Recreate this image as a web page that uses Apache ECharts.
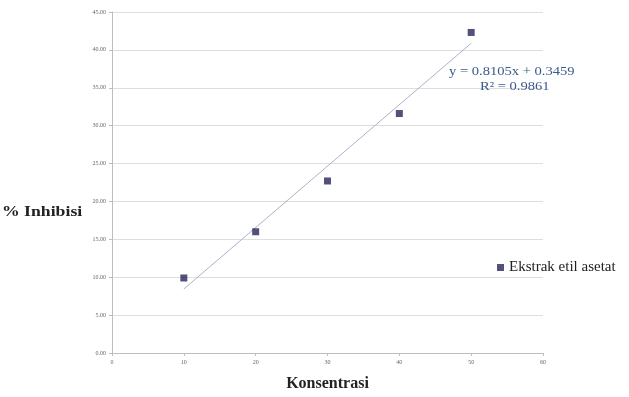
<!DOCTYPE html>
<html>
<head>
<meta charset="utf-8">
<script src="https://cdn.jsdelivr.net/npm/echarts@6/dist/echarts.min.js"></script>
<style>html,body{margin:0;padding:0;background:#fff}#c{width:629px;height:397px}</style>
</head>
<body>
<div id="c"></div>
<script>
const concentrations = [10, 20, 30, 40, 50];
const inhibition = [9.9, 16.0, 22.7, 31.6, 42.3];
const trendX = [10, 50];
const trendY = [8.45, 40.87];
const seriesName = 'Ekstrak etil asetat';
const equationText = 'y = 0.8105x + 0.3459';
const r2Text = 'R² = 0.9861';

const chart = echarts.init(document.getElementById('c'));
chart.setOption({
  animation: false,
  backgroundColor: '#fff',
  grid: {left: 112, right: 86, top: 12, bottom: 37},
  xAxis: {
    type: 'value', min: 0, max: 60, interval: 10,
    name: 'Konsentrasi', nameLocation: 'middle', nameGap: 23,
    nameTextStyle: {fontFamily: 'Liberation Serif', fontWeight: 'bold', fontSize: 16, color: '#222'},
    axisLine: {show: true, lineStyle: {color: '#bdbdbd'}},
    axisTick: {show: true, length: 3, lineStyle: {color: '#bdbdbd'}},
    axisLabel: {fontSize: 6, color: '#666', margin: 6, fontFamily: 'Liberation Serif'},
    splitLine: {show: false}
  },
  yAxis: {
    type: 'value', min: 0, max: 45, interval: 5,
    axisLine: {show: true, lineStyle: {color: '#bdbdbd'}},
    axisTick: {show: true, length: 3, lineStyle: {color: '#bdbdbd'}},
    axisLabel: {fontSize: 6, color: '#666', margin: 6, fontFamily: 'Liberation Serif', formatter: v => v.toFixed(2)},
    splitLine: {show: true, lineStyle: {color: '#dedede', width: 1}}
  },
  legend: {
    data: [{name: seriesName, icon: 'rect'}],
    left: 492, top: 255, itemWidth: 7, itemHeight: 7, itemGap: 5,
    textStyle: {fontFamily: 'Liberation Serif', fontSize: 15, color: '#222'}
  },
  graphic: [
    {type: 'text', left: 2, top: 205, scaleX: 1.18, style: {text: '% Inhibisi', font: 'bold 15px "Liberation Serif"', fill: '#222'}},
    {type: 'text', x: 449, y: 72, scaleX: 1.12, z: 10, style: {text: equationText, font: '13px "Liberation Serif"', fill: '#3b5a8a', verticalAlign: 'middle'}},
    {type: 'text', x: 480, y: 87, scaleX: 1.12, z: 10, style: {text: r2Text, font: '13px "Liberation Serif"', fill: '#3b5a8a', verticalAlign: 'middle'}}
  ],
  series: [
    {
      name: 'trend', type: 'line', data: trendX.map((x, i) => [x, trendY[i]]),
      symbol: 'none', lineStyle: {color: '#a9b5c9', width: 1}, silent: true, z: 1
    },
    {
      name: seriesName, type: 'scatter', data: concentrations.map((x, i) => [x, inhibition[i]]),
      symbol: 'rect', symbolSize: 7, itemStyle: {color: '#26265a'}, z: 3
    }
  ]
});
</script>
</body>
</html>
